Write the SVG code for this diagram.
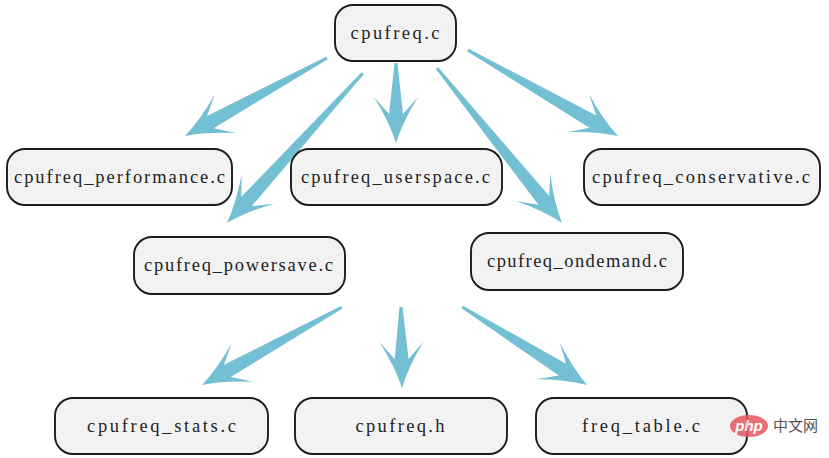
<svg xmlns="http://www.w3.org/2000/svg" xmlns:xlink="http://www.w3.org/1999/xlink" width="829" height="458" viewBox="0 0 829 458">
<style>
.box{fill:#f2f2f2;stroke:#1c1c1c;stroke-width:1.9}
.lbl{font-family:"Liberation Serif","DejaVu Serif",serif;font-size:18.5px;fill:#222;text-anchor:middle}
.arr{fill:#73bfd3}
.wm{font-family:"Noto Sans CJK SC",sans-serif;font-size:15px;fill:#333}
</style>
<defs>
<path id="head" d="M0,0 Q-22,7 -46,22 L-29,7 L-29,-7 L-46,-22 Q-22,-7 0,0 Z"/>
</defs>
<rect width="829" height="458" fill="#ffffff"/>
<g id="connectors" class="arr">
<g transform="translate(185,136) rotate(151.2)"><path d="M-162,-1.5 L-28,-7 L-28,7 L-162,1.5 Z"/><use xlink:href="#head"/></g>
<g transform="translate(227,223) rotate(132.2)"><path d="M-202,-1.5 L-28,-7 L-28,7 L-202,1.5 Z"/><use xlink:href="#head"/></g>
<g transform="translate(396,143) rotate(90)"><path d="M-80,-1.5 L-28,-7 L-28,7 L-80,1.5 Z"/><use xlink:href="#head"/></g>
<g transform="translate(562,223) rotate(51.1)"><path d="M-199,-1.5 L-28,-7 L-28,7 L-199,1.5 Z"/><use xlink:href="#head"/></g>
<g transform="translate(618,136) rotate(29.8)"><path d="M-173,-1.5 L-28,-7 L-28,7 L-173,1.5 Z"/><use xlink:href="#head"/></g>
<g transform="translate(202,385) rotate(150.9)"><path d="M-160,-1.5 L-28,-7 L-28,7 L-160,1.5 Z"/><use xlink:href="#head"/></g>
<g transform="translate(402,388) rotate(89.3)"><path d="M-81,-1.5 L-28,-7 L-28,7 L-81,1.5 Z"/><use xlink:href="#head"/></g>
<g transform="translate(587,385) rotate(32)"><path d="M-147,-1.5 L-28,-7 L-28,7 L-147,1.5 Z"/><use xlink:href="#head"/></g>
</g>
<g id="n-cpufreq-c"><rect class="box" x="335" y="5" width="121" height="56" rx="18"/><text class="lbl" x="395" y="38.5" textLength="89" lengthAdjust="spacing">cpufreq.c</text></g>
<g id="n-performance"><rect class="box" x="7" y="149" width="225" height="56" rx="18"/><text class="lbl" x="119.5" y="182.5" textLength="211" lengthAdjust="spacing">cpufreq_performance.c</text></g>
<g id="n-userspace"><rect class="box" x="291" y="149" width="211" height="56" rx="18"/><text class="lbl" x="395.5" y="182.5" textLength="189" lengthAdjust="spacing">cpufreq_userspace.c</text></g>
<g id="n-conservative"><rect class="box" x="584" y="149" width="236" height="56" rx="18"/><text class="lbl" x="701" y="182.5" textLength="218" lengthAdjust="spacing">cpufreq_conservative.c</text></g>
<g id="n-powersave"><rect class="box" x="134" y="237" width="211" height="57" rx="18"/><text class="lbl" x="238.5" y="271" textLength="189" lengthAdjust="spacing">cpufreq_powersave.c</text></g>
<g id="n-ondemand"><rect class="box" x="471" y="233" width="212" height="57" rx="18"/><text class="lbl" x="577" y="267" textLength="180" lengthAdjust="spacing">cpufreq_ondemand.c</text></g>
<g id="n-stats"><rect class="box" x="55" y="398" width="213" height="56" rx="18"/><text class="lbl" x="161.5" y="431.5" textLength="149" lengthAdjust="spacing">cpufreq_stats.c</text></g>
<g id="n-h"><rect class="box" x="295" y="398" width="212" height="56" rx="18"/><text class="lbl" x="400" y="431.5" textLength="89" lengthAdjust="spacing">cpufreq.h</text></g>
<g id="n-freq-table"><rect class="box" x="536" y="398" width="211" height="56" rx="18"/><text class="lbl" x="641" y="431.5" textLength="118" lengthAdjust="spacing">freq_table.c</text></g>
<g id="watermark" opacity="0.85">
<ellipse cx="749" cy="426" rx="19" ry="11" fill="#e8585f"/>
<text x="749" y="431" font-family="'Liberation Sans',sans-serif" font-size="15" font-style="italic" font-weight="bold" fill="#ffffff" text-anchor="middle">php</text>
<text class="wm" x="773" y="431">中文网</text>
</g>
</svg>
